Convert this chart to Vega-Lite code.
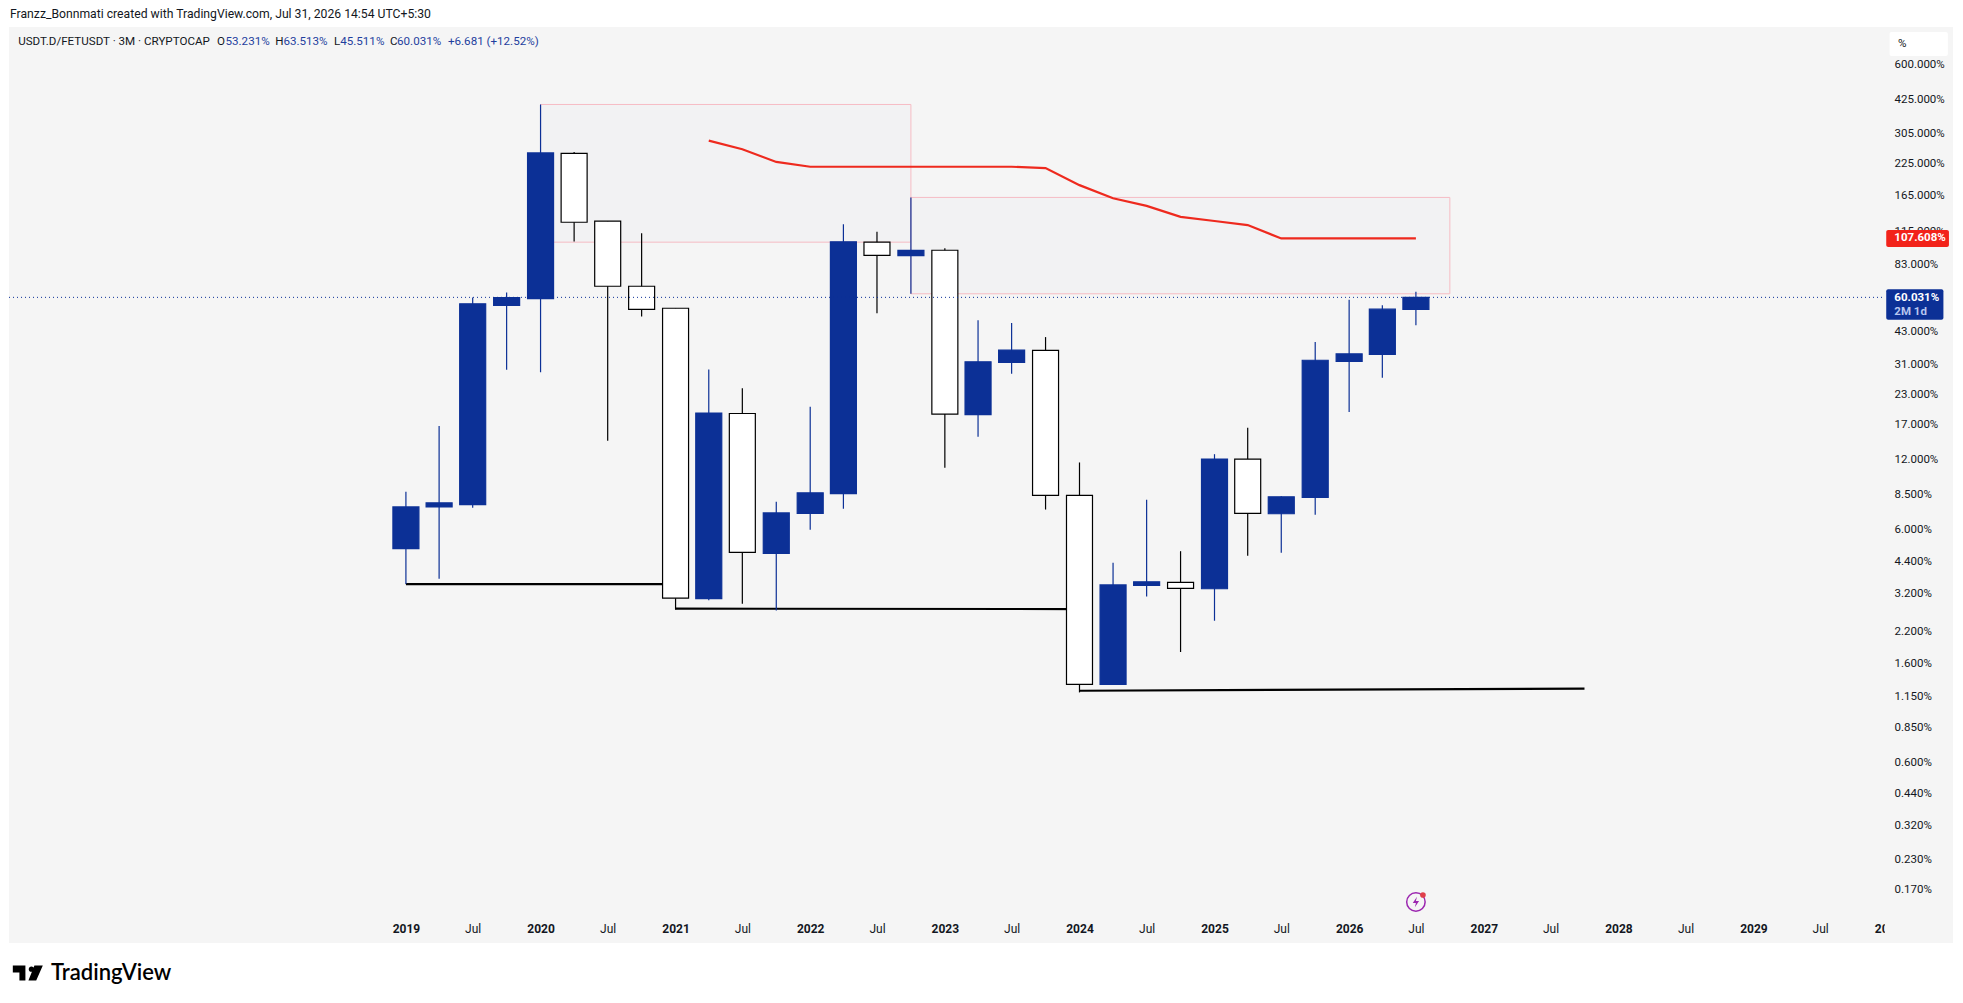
{
  "$schema": "https://vega.github.io/schema/vega-lite/v6.json",
  "width": 1944,
  "height": 916,
  "autosize": "none",
  "padding": {"left": 9, "top": 27, "right": 10, "bottom": 60},
  "background": "#ffffff",
  "title": {
    "text": "Franzz_Bonnmati created with TradingView.com, Jul 31, 2026 14:54 UTC+5:30",
    "anchor": "start",
    "frame": "group",
    "dx": 1,
    "offset": 7,
    "font": "Roboto",
    "fontSize": 12.2,
    "fontWeight": "normal",
    "color": "#131722"
  },
  "config": {"view": {"fill": "#f5f5f5", "stroke": null}},
  "resolve": {"scale": {"fill": "independent", "color": "independent"}},
  "datasets": {
    "candles": [
      {"date": "2019-01-01", "open": 4.98, "pct": 8.75, "low": 3.51, "close": 7.53, "dir": "up"},
      {"date": "2019-04-01", "open": 7.53, "pct": 16.8, "low": 3.70, "close": 7.84, "dir": "up"},
      {"date": "2019-07-01", "open": 7.71, "pct": 60.0, "low": 7.48, "close": 56.3, "dir": "up"},
      {"date": "2019-10-01", "open": 55.4, "pct": 63.0, "low": 29.3, "close": 59.9, "dir": "up"},
      {"date": "2020-01-01", "open": 59.3, "pct": 405.5, "low": 28.6, "close": 251, "dir": "up"},
      {"date": "2020-04-01", "open": 250, "pct": 253, "low": 104.4, "close": 126.3, "dir": "down"},
      {"date": "2020-07-01", "open": 127.6, "pct": 127.6, "low": 14.5, "close": 67.0, "dir": "down"},
      {"date": "2020-10-01", "open": 67.0, "pct": 113.3, "low": 49.6, "close": 53.3, "dir": "down"},
      {"date": "2021-01-01", "open": 53.9, "pct": 53.9, "low": 2.72, "close": 3.05, "dir": "down"},
      {"date": "2021-04-01", "open": 3.04, "pct": 29.4, "low": 2.99, "close": 19.1, "dir": "up"},
      {"date": "2021-07-01", "open": 19.0, "pct": 24.4, "low": 2.89, "close": 4.80, "dir": "down"},
      {"date": "2021-10-01", "open": 4.75, "pct": 7.92, "low": 2.70, "close": 7.10, "dir": "up"},
      {"date": "2022-01-01", "open": 7.06, "pct": 20.3, "low": 6.01, "close": 8.66, "dir": "up"},
      {"date": "2022-04-01", "open": 8.60, "pct": 123.8, "low": 7.40, "close": 104, "dir": "up"},
      {"date": "2022-07-01", "open": 103.7, "pct": 115, "low": 51.3, "close": 91.0, "dir": "down"},
      {"date": "2022-10-01", "open": 90.8, "pct": 161.5, "low": 62.2, "close": 95.5, "dir": "up"},
      {"date": "2023-01-01", "open": 95.7, "pct": 97.7, "low": 11.1, "close": 18.9, "dir": "down"},
      {"date": "2023-04-01", "open": 18.8, "pct": 47.9, "low": 15.1, "close": 31.7, "dir": "up"},
      {"date": "2023-07-01", "open": 31.5, "pct": 46.6, "low": 28.2, "close": 35.6, "dir": "up"},
      {"date": "2023-10-01", "open": 35.5, "pct": 40.5, "low": 7.34, "close": 8.44, "dir": "down"},
      {"date": "2024-01-01", "open": 8.44, "pct": 11.7, "low": 1.20, "close": 1.30, "dir": "down"},
      {"date": "2024-04-01", "open": 1.30, "pct": 4.33, "low": 1.30, "close": 3.48, "dir": "up"},
      {"date": "2024-07-01", "open": 3.46, "pct": 8.08, "low": 3.10, "close": 3.59, "dir": "up"},
      {"date": "2024-10-01", "open": 3.57, "pct": 4.86, "low": 1.79, "close": 3.36, "dir": "down"},
      {"date": "2025-01-01", "open": 3.35, "pct": 12.7, "low": 2.44, "close": 12.1, "dir": "up"},
      {"date": "2025-04-01", "open": 12.1, "pct": 16.5, "low": 4.65, "close": 7.07, "dir": "down"},
      {"date": "2025-07-01", "open": 7.04, "pct": 8.38, "low": 4.79, "close": 8.33, "dir": "up"},
      {"date": "2025-10-01", "open": 8.27, "pct": 38.6, "low": 6.97, "close": 32.2, "dir": "up"},
      {"date": "2026-01-01", "open": 31.8, "pct": 58.6, "low": 19.3, "close": 34.3, "dir": "up"},
      {"date": "2026-04-01", "open": 34.1, "pct": 55.5, "low": 27.1, "close": 53.4, "dir": "up"},
      {"date": "2026-07-01", "open": 53.231, "pct": 63.513, "low": 45.511, "close": 60.031, "dir": "up"}
    ],
    "average": [
      {"date": "2021-04-01", "pct": 283.5},
      {"date": "2021-07-01", "pct": 260.4},
      {"date": "2021-10-01", "pct": 229.5},
      {"date": "2022-01-01", "pct": 218.8},
      {"date": "2022-04-01", "pct": 218.8},
      {"date": "2022-07-01", "pct": 218.8},
      {"date": "2022-10-01", "pct": 218.8},
      {"date": "2023-01-01", "pct": 218.8},
      {"date": "2023-04-01", "pct": 218.8},
      {"date": "2023-07-01", "pct": 218.8},
      {"date": "2023-10-01", "pct": 216},
      {"date": "2024-01-01", "pct": 182.4},
      {"date": "2024-04-01", "pct": 160.1},
      {"date": "2024-07-01", "pct": 148.6},
      {"date": "2024-10-01", "pct": 133.2},
      {"date": "2025-01-01", "pct": 127.9},
      {"date": "2025-04-01", "pct": 122.8},
      {"date": "2025-07-01", "pct": 107.608},
      {"date": "2025-10-01", "pct": 107.608},
      {"date": "2026-01-01", "pct": 107.608},
      {"date": "2026-04-01", "pct": 107.608},
      {"date": "2026-07-01", "pct": 107.608}
    ],
    "zones": [
      {"date": "2020-01-01", "date2": "2022-10-01", "pct": 405.5, "pct2": 103.7},
      {"date": "2022-10-01", "date2": "2026-10-01", "pct": 161.5, "pct2": 62.2}
    ],
    "levels": [
      {"date": "2019-01-01", "date2": "2021-01-01", "pct": 3.51, "pct2": 3.51},
      {"date": "2021-01-01", "date2": "2024-01-01", "pct": 2.75, "pct2": 2.74},
      {"date": "2024-01-01", "date2": "2027-10-01", "pct": 1.22, "pct2": 1.246}
    ],
    "header": [
      {"date": "2016-02-15", "pct": 755, "text": "USDT.D/FETUSDT · 3M · CRYPTOCAP", "tone": "plain"},
      {"date": "2017-08-07", "pct": 755, "text": "O", "tone": "plain"},
      {"date": "2017-08-30", "pct": 755, "text": "53.231%", "tone": "value"},
      {"date": "2018-01-12", "pct": 755, "text": "H", "tone": "plain"},
      {"date": "2018-02-03", "pct": 755, "text": "63.513%", "tone": "value"},
      {"date": "2018-06-20", "pct": 755, "text": "L", "tone": "plain"},
      {"date": "2018-07-07", "pct": 755, "text": "45.511%", "tone": "value"},
      {"date": "2018-11-19", "pct": 755, "text": "C", "tone": "plain"},
      {"date": "2018-12-08", "pct": 755, "text": "60.031%", "tone": "value"},
      {"date": "2019-04-25", "pct": 755, "text": "+6.681 (+12.52%)", "tone": "value"},
      {"date": "2030-01-28", "pct": 738, "text": "%", "tone": "plain"}
    ],
    "badges": [
      {"date": "2029-12-27", "date2": "2030-06-15", "pct": 117.0, "pct2": 98.9, "kind": "average"},
      {"date": "2029-12-27", "date2": "2030-05-31", "pct": 65.0, "pct2": 48.1, "kind": "last"},
      {"date": "2030-01-05", "date2": "2030-06-12", "pct": 831, "pct2": 655.3, "kind": "unit"}
    ],
    "badgeText": [
      {"date": "2030-01-18", "pct": 107.608, "text": "107.608%", "tone": "white"},
      {"date": "2030-01-18", "pct": 59.5, "text": "60.031%", "tone": "white"},
      {"date": "2030-01-18", "pct": 51.9, "text": "2M 1d", "tone": "pale"}
    ]
  },
  "encoding": {
    "x": {
      "field": "date",
      "type": "temporal",
      "scale": {"domain": ["2016-01-21", "2030-06-26"], "padding": 0},
      "axis": {
        "orient": "bottom",
        "offset": -15,
        "title": null,
        "domain": false,
        "grid": false,
        "ticks": false,
        "labelPadding": 0,
        "labelBaseline": "middle",
        "labelFlush": false,
        "labelOverlap": false,
        "labelFont": "Roboto",
        "labelFontSize": 12,
        "labelColor": "#131722",
        "labelFontWeight": {"expr": "month(datum.value) == 0 ? 'bold' : 'normal'"},
        "labelExpr": "month(datum.value) == 0 ? timeFormat(datum.value, '%Y') : 'Jul'",
        "values": [
          {"year": 2019, "month": 1}, {"year": 2019, "month": 7},
          {"year": 2020, "month": 1}, {"year": 2020, "month": 7},
          {"year": 2021, "month": 1}, {"year": 2021, "month": 7},
          {"year": 2022, "month": 1}, {"year": 2022, "month": 7},
          {"year": 2023, "month": 1}, {"year": 2023, "month": 7},
          {"year": 2024, "month": 1}, {"year": 2024, "month": 7},
          {"year": 2025, "month": 1}, {"year": 2025, "month": 7},
          {"year": 2026, "month": 1}, {"year": 2026, "month": 7},
          {"year": 2027, "month": 1}, {"year": 2027, "month": 7},
          {"year": 2028, "month": 1}, {"year": 2028, "month": 7},
          {"year": 2029, "month": 1}, {"year": 2029, "month": 7},
          {"year": 2030, "month": 1}
        ]
      }
    },
    "y": {
      "field": "pct",
      "type": "quantitative",
      "scale": {"type": "log", "domain": [0.1003, 873.4], "nice": false},
      "axis": {
        "orient": "right",
        "offset": -59,
        "title": null,
        "domain": false,
        "grid": false,
        "ticks": false,
        "labelPadding": 0,
        "labelAlign": "left",
        "labelOverlap": false,
        "labelFont": "Roboto",
        "labelFontSize": 11.5,
        "labelColor": "#131722",
        "labelExpr": "format(datum.value, '.3f') + '%'",
        "values": [600, 425, 305, 225, 165, 115, 83, 43, 31, 23, 17, 12, 8.5, 6, 4.4, 3.2, 2.2, 1.6, 1.15, 0.85, 0.6, 0.44, 0.32, 0.23, 0.17]
      }
    }
  },
  "layer": [
    {
      "data": {"name": "zones"},
      "mark": {"type": "rect", "fill": "#f2f2f3", "stroke": "#f6bcc4", "strokeWidth": 1},
      "encoding": {
        "x2": {"field": "date2"},
        "y2": {"field": "pct2"}
      }
    },
    {
      "data": {"name": "average"},
      "mark": {"type": "line", "color": "#ee2a1e", "strokeWidth": 2.2},
      "encoding": {}
    },
    {
      "data": {"name": "levels"},
      "mark": {"type": "rule", "color": "#000000", "strokeWidth": 2.2},
      "encoding": {
        "x2": {"field": "date2"},
        "y2": {"field": "pct2"}
      }
    },
    {
      "data": {"name": "candles"},
      "mark": {"type": "rule", "strokeWidth": 1.2},
      "encoding": {
        "y2": {"field": "low"},
        "stroke": {
          "field": "dir",
          "type": "nominal",
          "scale": {"domain": ["up", "down"], "range": ["#0c3096", "#000000"]},
          "legend": null
        }
      }
    },
    {
      "data": {"name": "candles"},
      "mark": {"type": "bar", "orient": "vertical", "size": 26, "strokeWidth": 1.2},
      "encoding": {
        "y": {
          "field": "open",
          "type": "quantitative",
          "scale": {"type": "log", "domain": [0.1003, 873.4], "nice": false}
        },
        "y2": {"field": "close"},
        "fill": {
          "field": "dir",
          "type": "nominal",
          "scale": {"domain": ["up", "down"], "range": ["#0c3096", "#ffffff"]},
          "legend": null
        },
        "stroke": {
          "field": "dir",
          "type": "nominal",
          "scale": {"domain": ["up", "down"], "range": ["#0c3096", "#000000"]},
          "legend": null
        }
      }
    },
    {
      "data": {"values": [{"date": "2016-01-21", "date2": "2029-12-23", "pct": 60.031}]},
      "mark": {"type": "rule", "color": "#0c3096", "strokeWidth": 1, "strokeDash": [1, 3]},
      "encoding": {"x2": {"field": "date2"}}
    },
    {
      "data": {"values": [{"date": "2029-12-23", "date2": "2030-06-26", "pct": 0.1324, "pct2": 0.1003}]},
      "mark": {"type": "rect", "fill": "#f5f5f5"},
      "encoding": {
        "x2": {"field": "date2"},
        "y2": {"field": "pct2"}
      }
    },
    {
      "data": {"name": "badges"},
      "mark": {"type": "rect", "cornerRadius": 2},
      "encoding": {
        "x2": {"field": "date2"},
        "y2": {"field": "pct2"},
        "fill": {
          "field": "kind",
          "type": "nominal",
          "scale": {"domain": ["average", "last", "unit"], "range": ["#f2231a", "#0c3096", "#ffffff"]},
          "legend": null
        }
      }
    },
    {
      "data": {"name": "header"},
      "mark": {"type": "text", "align": "left", "baseline": "middle", "font": "Roboto", "fontSize": 11.6},
      "encoding": {
        "text": {"field": "text", "type": "nominal"},
        "color": {
          "field": "tone",
          "type": "nominal",
          "scale": {"domain": ["plain", "value"], "range": ["#131722", "#1f3f9e"]},
          "legend": null
        }
      }
    },
    {
      "data": {"name": "badgeText"},
      "mark": {"type": "text", "align": "left", "baseline": "middle", "font": "Roboto", "fontSize": 11.5, "fontWeight": "bold"},
      "encoding": {
        "text": {"field": "text", "type": "nominal"},
        "color": {
          "field": "tone",
          "type": "nominal",
          "scale": {"domain": ["white", "pale"], "range": ["#ffffff", "#b7c6ef"]},
          "legend": null
        }
      }
    },
    {
      "data": {"values": [{"date": "2026-07-01", "pct": 0.1506}]},
      "mark": {"type": "point", "shape": "circle", "filled": false, "stroke": "#9c27b0", "strokeWidth": 1.5, "size": 340, "opacity": 1},
      "encoding": {}
    },
    {
      "data": {"values": [{"date": "2026-07-01", "pct": 0.1506}]},
      "mark": {"type": "point", "shape": "M.1 -.5 L-.3 .1 H0 L-.1 .5 L.3 -.1 H0 Z", "filled": true, "fill": "#9c27b0", "stroke": null, "size": 440, "opacity": 1},
      "encoding": {}
    },
    {
      "data": {"values": [{"date": "2026-07-20", "pct": 0.1614}]},
      "mark": {"type": "point", "shape": "circle", "filled": true, "fill": "#e0404a", "stroke": null, "size": 32, "opacity": 1},
      "encoding": {}
    },
    {
      "data": {"values": [{"date": "2016-03-12", "pct": 0.0745}]},
      "mark": {"type": "point", "shape": "M-.5 -.25 H-.08 V.25 H-.28 V-.02 H-.5 Z M.03 -.13 A.09 .09 0 1 1 .03 -.129 Z M.22 -.25 H.5 L.28 .25 H.02 Z", "filled": true, "fill": "#000000", "stroke": null, "size": 3600, "opacity": 1},
      "encoding": {}
    },
    {
      "data": {"values": [{"date": "2016-05-14", "pct": 0.0745, "text": "TradingView"}]},
      "mark": {"type": "text", "align": "left", "baseline": "middle", "font": "Lato", "fontSize": 22, "fontWeight": 600, "color": "#000000"},
      "encoding": {"text": {"field": "text", "type": "nominal"}}
    }
  ]
}
